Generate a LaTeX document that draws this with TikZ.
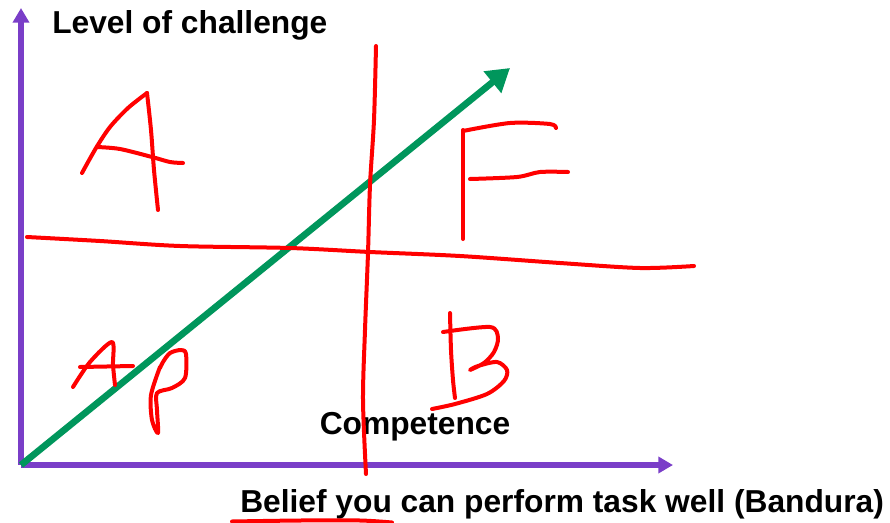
\documentclass[tikz,border=0pt]{standalone}
\usepackage{fontspec}
\setmainfont{Liberation Sans}
\usetikzlibrary{arrows.meta}

\definecolor{axispurple}{RGB}{122,62,200}
\definecolor{growgreen}{RGB}{0,150,92}
\definecolor{penred}{RGB}{255,0,0}

\begin{document}
\begin{tikzpicture}[x=0.75pt,y=-0.75pt]
  \tikzstyle{axis}=[draw=axispurple, line width=3.8pt, -{Triangle[length=11pt,width=12pt]}]
  \tikzstyle{trend}=[draw=growgreen, line width=5pt, -{Triangle[length=17pt,width=20pt]}]
  \tikzstyle{pen}=[draw=penred, line width=3pt, line cap=round, line join=round]
  \tikzstyle{caption}=[font=\bfseries\fontsize{23.8}{28}\selectfont, inner sep=0pt]
  \useasboundingbox (0,0) rectangle (890,522);

  % axes and the rising arrow
  \coordinate (O) at (21,465);
  \coordinate (Ytip) at (21,8);
  \coordinate (Xtip) at (673,465);
  \coordinate (G_tip) at (510,68);
  \draw[axis] (O) -- (Ytip);
  \draw[axis] (O) -- (Xtip);
  \draw[trend] (O) -- (G_tip);

  % labels
  \node[caption, anchor=base west] (challenge) at (52,33) {Level of challenge};
  \node[caption, anchor=base] (competence) at (415,434) {Competence};
  \node[caption, anchor=base west] (belief) at (240,512) {Belief you can perform task well (Bandura)};

  % quadrant lines
  \draw[pen] plot[smooth] coordinates {(376,46) (374,120) (370,185) (368,253) (365,330) (363,400) (366,474)};
  \draw[pen] plot[smooth] coordinates {(27,237) (100,241) (180,246) (290,248) (370,252) (460,256) (560,263) (640,268) (694,266)};

  % A
  \draw[pen] plot[smooth] coordinates {(82,173) (96,148) (110,127) (128,108) (147,93)};
  \draw[pen] plot[smooth] coordinates {(147,93) (151,130) (154,170) (158,210)};
  \draw[pen] plot[smooth] coordinates {(97,147) (120,149) (152,157) (170,162) (183,163)};

  % F
  \draw[pen] (463,130) -- (463,239);
  \draw[pen] plot[smooth] coordinates {(463,131) (510,123) (550,124) (556,128)};
  \draw[pen] plot[smooth] coordinates {(470,179) (517,177) (540,172) (568,172)};

  % AP
  \draw[pen] plot[smooth] coordinates {(73,387) (90,362) (112,342) (113,365) (115,385)};
  \draw[pen] (80,367) -- (133,366);
  \draw[pen] plot[smooth] coordinates {(160,367) (151,395) (152,420) (158,433) (157,410) (157,393) (172,388) (185,378) (186,354) (181,350) (170,353) (163,362) (160,368)};

  % B
  \draw[pen] plot[smooth] coordinates {(450,313) (451,350) (453,380) (455,398)};
  \draw[pen] plot[smooth] coordinates {(443,332) (490,327) (498,338) (494,352) (484,363) (470,370) (478,366) (497,362) (507,370) (504,381) (487,394) (455,404) (432,409)};

  % underline
  \draw[pen] plot[smooth] coordinates {(232,521.5) (300,520.5) (360,520.5) (392,522.5)};
\end{tikzpicture}
\end{document}
